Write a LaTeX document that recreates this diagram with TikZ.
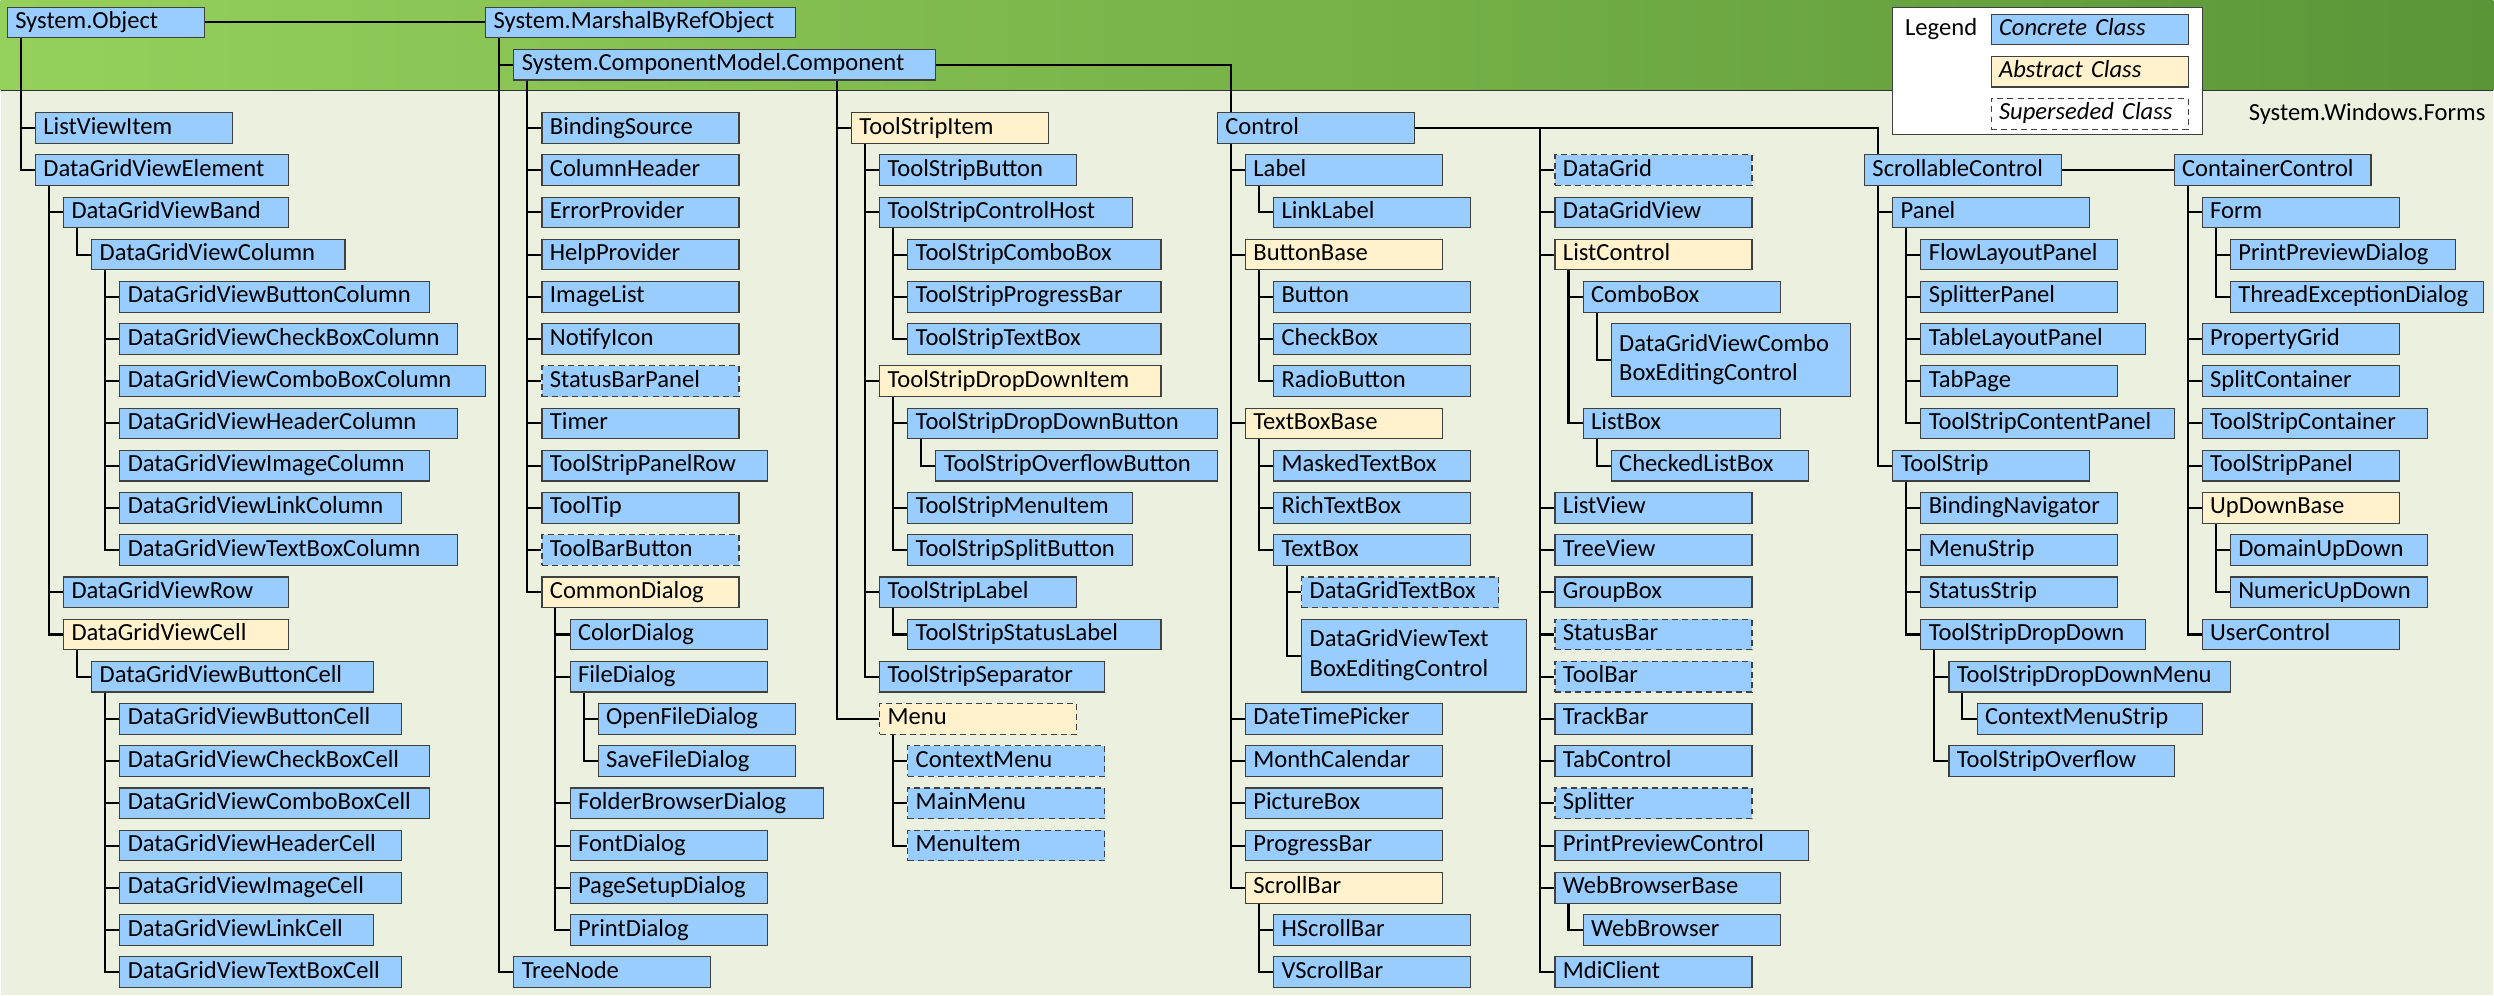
\documentclass[tikz,border=0pt]{standalone}
\usepackage{fontspec}
\setmainfont{Carlito}
\usepackage{xcolor}
\usetikzlibrary{calc}
\definecolor{concrete}{RGB}{153,204,255}
\definecolor{abstractc}{RGB}{255,242,204}
\definecolor{paper}{RGB}{235,241,222}
\definecolor{boxline}{RGB}{64,64,64}
\definecolor{bandleft}{RGB}{150,208,92}
\definecolor{bandright}{RGB}{90,150,56}

% 父类到子类的折线
\newcommand{\kids}[2]{\foreach \ch in {#2} \draw[link] ($(#1.south west)+(0.5,0)$) |- (\ch.west);}

\begin{document}
\begin{tikzpicture}[x=0.531cm, y=-0.531cm, font=\fontsize{13.2}{15.8}\selectfont,
    bw/.style={text width=#1*0.531cm-0.3cm}]
    \tikzstyle{cls} = [draw=boxline, fill=concrete, line width=0.6pt, anchor=west, inner xsep=0.15cm, inner ysep=0pt, minimum height=0.578cm, align=left, text height=9.6pt, text depth=3.1pt]
    \tikzstyle{abs} = [cls, fill=abstractc]
    \tikzstyle{old} = [dash pattern=on 3.2pt off 2.2pt]
    \tikzstyle{twoline} = [text depth=18.9pt, minimum height=1.375cm]
    \tikzstyle{link} = [draw, line width=1.1pt]

    % 背景
    \fill[paper] (-0.22,-4.548) rectangle (88.37,30.82);
    \shade[left color=bandleft, right color=bandright] (-0.22,-4.548) rectangle (88.37,-1.33);
    \draw[line width=0.6pt, black!80] (-0.22,-1.33) -- (88.37,-1.33);
    \useasboundingbox (-0.22,-4.548) rectangle (88.37,30.82);

    % 图例
    \node[draw=boxline, fill=white, line width=0.6pt, anchor=north west, inner sep=0pt, minimum width=11*0.531cm, minimum height=4.5*0.531cm] (legend) at (67,-4.29) {};
    \node[anchor=west, inner sep=0pt] (legendtitle) at (67.45,-3.5) {Legend};
    \node[cls, bw=7] (concrete) at (70.5,-3.5) {\itshape Concrete Class};
    \node[abs, bw=7] (abstract) at (70.5,-2) {\itshape Abstract Class};
    \node[cls, old, fill=white, bw=7] (superseded) at (70.5,-0.5) {\itshape Superseded Class};
    \node[anchor=east, inner sep=0pt] (ns) at (88.1,-0.5) {System.Windows.Forms};

    % 顶层节点
    \node[cls, bw=7] (object) at (0,-3.75) {System.Object};
    \node[cls, bw=11] (marshal) at (17,-3.75) {System.MarshalByRefObject};
    \node[cls, bw=15] (component) at (18,-2.25) {System.ComponentModel.Component};

    % System.Object 分支
    \node[cls, bw=7] (lvitem) at (1,0) {ListViewItem};
    \node[cls, bw=9] (dgvelem) at (1,1.5) {DataGridViewElement};
    \node[cls, bw=8] (dgvband) at (2,3) {DataGridViewBand};
    \node[cls, bw=9] (dgvcol) at (3,4.5) {DataGridViewColumn};
    \node[cls, bw=11] (btncol) at (4,6) {DataGridViewButtonColumn};
    \node[cls, bw=12] (chkcol) at (4,7.5) {DataGridViewCheckBoxColumn};
    \node[cls, bw=13] (cbocol) at (4,9) {DataGridViewComboBoxColumn};
    \node[cls, bw=12] (hdrcol) at (4,10.5) {DataGridViewHeaderColumn};
    \node[cls, bw=11] (imgcol) at (4,12) {DataGridViewImageColumn};
    \node[cls, bw=10] (lnkcol) at (4,13.5) {DataGridViewLinkColumn};
    \node[cls, bw=12] (txtcol) at (4,15) {DataGridViewTextBoxColumn};
    \node[cls, bw=8] (dgvrow) at (2,16.5) {DataGridViewRow};
    \node[abs, bw=8] (dgvcell) at (2,18) {DataGridViewCell};
    \node[cls, bw=10] (btncellbase) at (3,19.5) {DataGridViewButtonCell};
    \node[cls, bw=10] (btncell) at (4,21) {DataGridViewButtonCell};
    \node[cls, bw=11] (chkcell) at (4,22.5) {DataGridViewCheckBoxCell};
    \node[cls, bw=11] (cbocell) at (4,24) {DataGridViewComboBoxCell};
    \node[cls, bw=10] (hdrcell) at (4,25.5) {DataGridViewHeaderCell};
    \node[cls, bw=10] (imgcell) at (4,27) {DataGridViewImageCell};
    \node[cls, bw=9] (lnkcell) at (4,28.5) {DataGridViewLinkCell};
    \node[cls, bw=10] (txtcell) at (4,30) {DataGridViewTextBoxCell};

    % Component 分支
    \node[cls, bw=7] (bindsrc) at (19,0) {BindingSource};
    \node[cls, bw=7] (colhdr) at (19,1.5) {ColumnHeader};
    \node[cls, bw=7] (errprov) at (19,3) {ErrorProvider};
    \node[cls, bw=7] (helpprov) at (19,4.5) {HelpProvider};
    \node[cls, bw=7] (imglist) at (19,6) {ImageList};
    \node[cls, bw=7] (notify) at (19,7.5) {NotifyIcon};
    \node[cls, old, bw=7] (sbpanel) at (19,9) {StatusBarPanel};
    \node[cls, bw=7] (timer) at (19,10.5) {Timer};
    \node[cls, bw=8] (tsprow) at (19,12) {ToolStripPanelRow};
    \node[cls, bw=7] (tooltip) at (19,13.5) {ToolTip};
    \node[cls, old, bw=7] (tbbutton) at (19,15) {ToolBarButton};
    \node[abs, bw=7] (cdialog) at (19,16.5) {CommonDialog};
    \node[cls, bw=7] (colordlg) at (20,18) {ColorDialog};
    \node[cls, bw=7] (filedlg) at (20,19.5) {FileDialog};
    \node[cls, bw=7] (opendlg) at (21,21) {OpenFileDialog};
    \node[cls, bw=7] (savedlg) at (21,22.5) {SaveFileDialog};
    \node[cls, bw=9] (folderdlg) at (20,24) {FolderBrowserDialog};
    \node[cls, bw=7] (fontdlg) at (20,25.5) {FontDialog};
    \node[cls, bw=7] (pagedlg) at (20,27) {PageSetupDialog};
    \node[cls, bw=7] (printdlg) at (20,28.5) {PrintDialog};
    \node[cls, bw=7] (treenode) at (18,30) {TreeNode};

    % ToolStripItem 与 Menu
    \node[abs, bw=7] (tsitem) at (30,0) {ToolStripItem};
    \node[cls, bw=7] (tsbutton) at (31,1.5) {ToolStripButton};
    \node[cls, bw=9] (tshost) at (31,3) {ToolStripControlHost};
    \node[cls, bw=9] (tscombo) at (32,4.5) {ToolStripComboBox};
    \node[cls, bw=9] (tsprogress) at (32,6) {ToolStripProgressBar};
    \node[cls, bw=9] (tstext) at (32,7.5) {ToolStripTextBox};
    \node[abs, bw=10] (tsddi) at (31,9) {ToolStripDropDownItem};
    \node[cls, bw=11] (tsddb) at (32,10.5) {ToolStripDropDownButton};
    \node[cls, bw=10] (tsovf) at (33,12) {ToolStripOverflowButton};
    \node[cls, bw=8] (tsmenuitem) at (32,13.5) {ToolStripMenuItem};
    \node[cls, bw=8] (tssplit) at (32,15) {ToolStripSplitButton};
    \node[cls, bw=7] (tslabel) at (31,16.5) {ToolStripLabel};
    \node[cls, bw=9] (tsstatus) at (32,18) {ToolStripStatusLabel};
    \node[cls, bw=8] (tssep) at (31,19.5) {ToolStripSeparator};
    \node[abs, old, bw=7] (menu) at (31,21) {Menu};
    \node[cls, old, bw=7] (ctxmenu) at (32,22.5) {ContextMenu};
    \node[cls, old, bw=7] (mainmenu) at (32,24) {MainMenu};
    \node[cls, old, bw=7] (menuitem) at (32,25.5) {MenuItem};

    % Control 分支
    \node[cls, bw=7] (control) at (43,0) {Control};
    \node[cls, bw=7] (label) at (44,1.5) {Label};
    \node[cls, bw=7] (linklabel) at (45,3) {LinkLabel};
    \node[abs, bw=7] (btnbase) at (44,4.5) {ButtonBase};
    \node[cls, bw=7] (button) at (45,6) {Button};
    \node[cls, bw=7] (checkbox) at (45,7.5) {CheckBox};
    \node[cls, bw=7] (radio) at (45,9) {RadioButton};
    \node[abs, bw=7] (tbbase) at (44,10.5) {TextBoxBase};
    \node[cls, bw=7] (masked) at (45,12) {MaskedTextBox};
    \node[cls, bw=7] (rich) at (45,13.5) {RichTextBox};
    \node[cls, bw=7] (textbox) at (45,15) {TextBox};
    \node[cls, old, bw=7] (dgtextbox) at (46,16.5) {DataGridTextBox};
    \node[cls, twoline, bw=8] (dgvtbedit) at (46,18.75) {DataGridViewText\\BoxEditingControl};
    \node[cls, bw=7] (datetime) at (44,21) {DateTimePicker};
    \node[cls, bw=7] (month) at (44,22.5) {MonthCalendar};
    \node[cls, bw=7] (picture) at (44,24) {PictureBox};
    \node[cls, bw=7] (progress) at (44,25.5) {ProgressBar};
    \node[abs, bw=7] (scrollbar) at (44,27) {ScrollBar};
    \node[cls, bw=7] (hscroll) at (45,28.5) {HScrollBar};
    \node[cls, bw=7] (vscroll) at (45,30) {VScrollBar};

    \node[cls, old, bw=7] (datagrid) at (55,1.5) {DataGrid};
    \node[cls, bw=7] (dgview) at (55,3) {DataGridView};
    \node[abs, bw=7] (listctl) at (55,4.5) {ListControl};
    \node[cls, bw=7] (combobox) at (56,6) {ComboBox};
    \node[cls, twoline, bw=8.5] (dgvcboedit) at (57,8.25) {DataGridViewCombo\\BoxEditingControl};
    \node[cls, bw=7] (listbox) at (56,10.5) {ListBox};
    \node[cls, bw=7] (checkedlb) at (57,12) {CheckedListBox};
    \node[cls, bw=7] (listview) at (55,13.5) {ListView};
    \node[cls, bw=7] (treeview) at (55,15) {TreeView};
    \node[cls, bw=7] (groupbox) at (55,16.5) {GroupBox};
    \node[cls, old, bw=7] (statusbar) at (55,18) {StatusBar};
    \node[cls, old, bw=7] (toolbar) at (55,19.5) {ToolBar};
    \node[cls, bw=7] (trackbar) at (55,21) {TrackBar};
    \node[cls, bw=7] (tabctl) at (55,22.5) {TabControl};
    \node[cls, old, bw=7] (splitter) at (55,24) {Splitter};
    \node[cls, bw=9] (ppctl) at (55,25.5) {PrintPreviewControl};
    \node[cls, bw=8] (wbbase) at (55,27) {WebBrowserBase};
    \node[cls, bw=7] (webbrowser) at (56,28.5) {WebBrowser};
    \node[cls, bw=7] (mdi) at (55,30) {MdiClient};

    % ScrollableControl 分支
    \node[cls, bw=7] (scroll) at (66,1.5) {ScrollableControl};
    \node[cls, bw=7] (panel) at (67,3) {Panel};
    \node[cls, bw=7] (flowpanel) at (68,4.5) {FlowLayoutPanel};
    \node[cls, bw=7] (splitpanel) at (68,6) {SplitterPanel};
    \node[cls, bw=8] (tablepanel) at (68,7.5) {TableLayoutPanel};
    \node[cls, bw=7] (tabpage) at (68,9) {TabPage};
    \node[cls, bw=9] (tscontent) at (68,10.5) {ToolStripContentPanel};
    \node[cls, bw=7] (toolstrip) at (67,12) {ToolStrip};
    \node[cls, bw=7] (bindnav) at (68,13.5) {BindingNavigator};
    \node[cls, bw=7] (menustrip) at (68,15) {MenuStrip};
    \node[cls, bw=7] (statusstrip) at (68,16.5) {StatusStrip};
    \node[cls, bw=8] (tsdropdown) at (68,18) {ToolStripDropDown};
    \node[cls, bw=10] (tsddmenu) at (69,19.5) {ToolStripDropDownMenu};
    \node[cls, bw=8] (ctxstrip) at (70,21) {ContextMenuStrip};
    \node[cls, bw=8] (tsoverflow) at (69,22.5) {ToolStripOverflow};

    \node[cls, bw=7] (container) at (77,1.5) {ContainerControl};
    \node[cls, bw=7] (form) at (78,3) {Form};
    \node[cls, bw=8] (ppdialog) at (79,4.5) {PrintPreviewDialog};
    \node[cls, bw=9] (tedialog) at (79,6) {ThreadExceptionDialog};
    \node[cls, bw=7] (propgrid) at (78,7.5) {PropertyGrid};
    \node[cls, bw=7] (splitcont) at (78,9) {SplitContainer};
    \node[cls, bw=8] (tscontainer) at (78,10.5) {ToolStripContainer};
    \node[cls, bw=7] (tspanel) at (78,12) {ToolStripPanel};
    \node[abs, bw=7] (updown) at (78,13.5) {UpDownBase};
    \node[cls, bw=7] (domainud) at (79,15) {DomainUpDown};
    \node[cls, bw=7] (numericud) at (79,16.5) {NumericUpDown};
    \node[cls, bw=7] (userctl) at (78,18) {UserControl};

    % 连线
    \draw[link] (object.east) -- (marshal.west);
    \kids{object}{lvitem,dgvelem}
    \kids{dgvelem}{dgvband,dgvrow,dgvcell}
    \kids{dgvband}{dgvcol}
    \kids{dgvcol}{btncol,chkcol,cbocol,hdrcol,imgcol,lnkcol,txtcol}
    \kids{dgvcell}{btncellbase}
    \kids{btncellbase}{btncell,chkcell,cbocell,hdrcell,imgcell,lnkcell,txtcell}

    \kids{marshal}{component,treenode}
    \kids{component}{bindsrc,colhdr,errprov,helpprov,imglist,notify,sbpanel,timer,tsprow,tooltip,tbbutton,cdialog}
    \kids{cdialog}{colordlg,filedlg,folderdlg,fontdlg,pagedlg,printdlg}
    \kids{filedlg}{opendlg,savedlg}

    \foreach \ch in {tsitem,menu} \draw[link] ($(component.south west)+(11.5,0)$) |- (\ch.west);
    \kids{tsitem}{tsbutton,tshost,tsddi,tslabel,tssep}
    \kids{tshost}{tscombo,tsprogress,tstext}
    \kids{tsddi}{tsddb,tsmenuitem,tssplit}
    \kids{tsddb}{tsovf}
    \kids{tslabel}{tsstatus}
    \kids{menu}{ctxmenu,mainmenu,menuitem}

    \draw[link] (component.east) -| ($(control.north west)+(0.5,0)$);
    \kids{control}{label,btnbase,tbbase,datetime,month,picture,progress,scrollbar}
    \kids{label}{linklabel}
    \kids{btnbase}{button,checkbox,radio}
    \kids{tbbase}{masked,rich,textbox}
    \kids{textbox}{dgtextbox,dgvtbedit}
    \kids{scrollbar}{hscroll,vscroll}

    \foreach \ch in {datagrid,dgview,listctl,listview,treeview,groupbox,statusbar,toolbar,trackbar,tabctl,splitter,ppctl,wbbase,mdi}
        \draw[link] (control.east) -| ($(\ch.west)+(-0.5,0)$) -- (\ch.west);
    \kids{listctl}{combobox,listbox}
    \kids{combobox}{dgvcboedit}
    \kids{listbox}{checkedlb}
    \kids{wbbase}{webbrowser}

    \draw[link] (control.east) -| ($(scroll.north west)+(0.5,0)$);
    \draw[link] (scroll.east) -- (container.west);
    \kids{scroll}{panel,toolstrip}
    \kids{panel}{flowpanel,splitpanel,tablepanel,tabpage,tscontent}
    \kids{toolstrip}{bindnav,menustrip,statusstrip,tsdropdown}
    \kids{tsdropdown}{tsddmenu,tsoverflow}
    \kids{tsddmenu}{ctxstrip}
    \kids{container}{form,propgrid,splitcont,tscontainer,tspanel,updown,userctl}
    \kids{form}{ppdialog,tedialog}
    \kids{updown}{domainud,numericud}
\end{tikzpicture}
\end{document}
